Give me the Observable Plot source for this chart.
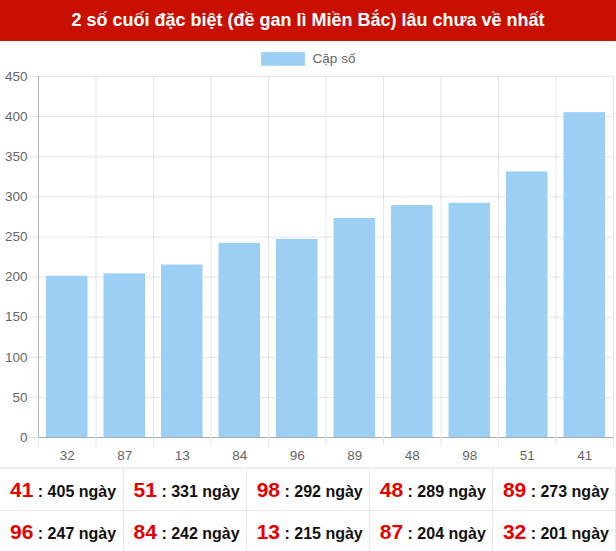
<!DOCTYPE html>
<html>
<head>
<meta charset="utf-8">
<script src="https://cdn.jsdelivr.net/npm/d3@7"></script>
<script src="https://cdn.jsdelivr.net/npm/@observablehq/plot@0.6"></script>
<style>
  body { margin: 0; width: 616px; background: #fff; font-family: "Liberation Sans", Arial, Helvetica, sans-serif; overflow: hidden; }
  .hdr { height: 41px; line-height: 40px; background: #c80f00; color: #fff; font-weight: bold; font-size: 18px; text-align: center; }
  .legend { height: 29px; display: flex; justify-content: center; align-items: flex-start; box-sizing: border-box; color: #666; font-size: 13.5px; }
  .legend .box { width: 44px; height: 14px; background: #9ccff4; margin-top: 11px; margin-right: 8px; border: 1px solid #a9d6f6; box-sizing: border-box; }
  .legend span { margin-top: 10px; line-height: 16px; }
  #chart svg { display: block; }
  table { border-collapse: collapse; width: 616px; table-layout: fixed; border-top: 2px solid #eee; }
  td { border: 1px solid #e8e8e8; height: 41px; padding: 0 0 0 10px; font-weight: bold; font-size: 16px; color: #111; white-space: nowrap; }
  td .n { color: #e60000; font-size: 21px; }
  td:first-child { border-left: none; }
</style>
</head>
<body>
<div class="hdr">2 số cuối đặc biệt (đề gan lì Miền Bắc) lâu chưa về nhất</div>
<div class="legend"><div class="box"></div><span>Cặp số</span></div>
<div id="chart"></div>
<table id="tbl"></table>
<script>
const cats = ["32","87","13","84","96","89","48","98","51","41"];
const vals = [201,204,215,242,247,273,289,292,331,405];
const yTicks = [0,50,100,150,200,250,300,350,400,450];
const unit = "ngày";

const chart = Plot.plot({
  width: 616,
  height: 397,
  marginTop: 6,
  marginBottom: 30,
  marginLeft: 38,
  marginRight: 3,
  style: { fontFamily: "'Liberation Sans', Arial, Helvetica, sans-serif", fontSize: "13.5px", background: "#fff" },
  x: { domain: [0, cats.length] },
  y: { domain: [0, 450] },
  marks: [
    Plot.gridY(yTicks, { stroke: "#000", strokeOpacity: 0.1 }),
    Plot.gridX(d3.range(cats.length + 1), { stroke: "#000", strokeOpacity: 0.1 }),
    Plot.rectY(cats, {
      x1: (d, i) => i,
      x2: (d, i) => i + 1,
      y: (d, i) => vals[i],
      insetLeft: 8,
      insetRight: 8,
      fill: "#9ccff4"
    }),
    Plot.ruleY([0], { stroke: "#000", strokeOpacity: 0.25 }),
    Plot.ruleX([0], { stroke: "#000", strokeOpacity: 0.2 }),
    Plot.axisY(yTicks, { tickSize: 9, tickPadding: 2, stroke: "#e5e5e5", fill: "#666", label: null, fontSize: 13.5 }),
    Plot.axisX(d3.range(cats.length + 1), { tickSize: 9, tickFormat: () => "", stroke: "#e5e5e5", label: null }),
    Plot.axisX(d3.range(cats.length).map(i => i + 0.5), { tickSize: 0, tickPadding: 13, tickFormat: v => cats[Math.floor(v)], fill: "#666", label: null, fontSize: 13.5 })
  ]
});
document.getElementById("chart").appendChild(chart);

// table sorted descending
const order = d3.range(cats.length).sort((a, b) => vals[b] - vals[a]);
const tbl = document.getElementById("tbl");
for (let r = 0; r < 2; r++) {
  const tr = document.createElement("tr");
  for (let c = 0; c < 5; c++) {
    const k = order[r * 5 + c];
    const td = document.createElement("td");
    td.innerHTML = `<span class="n">${cats[k]}</span> : ${vals[k]} ${unit}`;
    tr.appendChild(td);
  }
  tbl.appendChild(tr);
}
</script>
</body>
</html>
